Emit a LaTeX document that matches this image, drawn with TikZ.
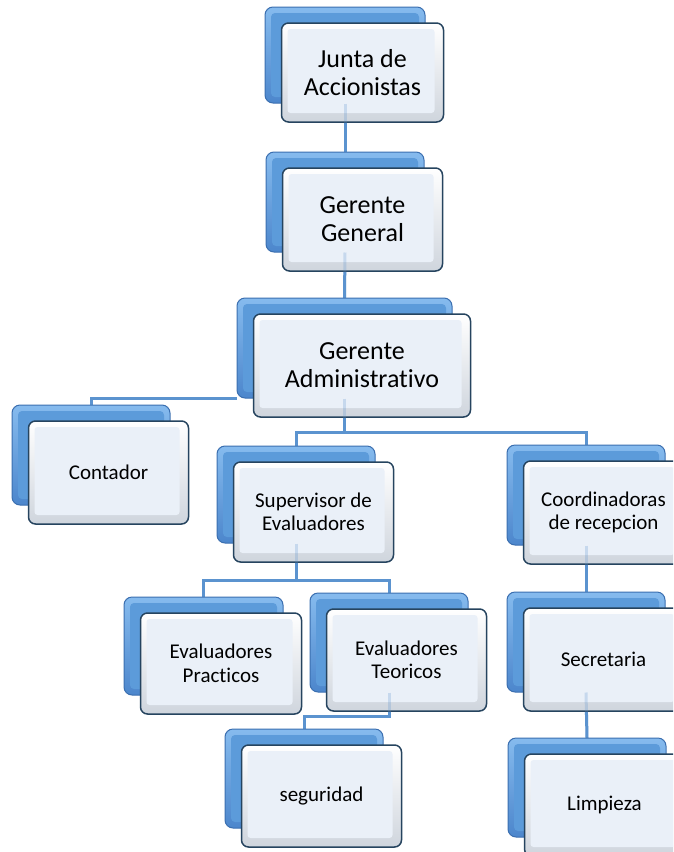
\documentclass[tikz,border=0pt]{standalone}
\usepackage{fontspec}
\setmainfont{Carlito}[Ligatures=NoCommon]
\usetikzlibrary{calc}
\definecolor{conn}{HTML}{5B93CF}
\definecolor{blueedge}{HTML}{3B6FB0}
\definecolor{bluetop}{HTML}{86BBEE}
\definecolor{bluebot}{HTML}{4C86CC}
\definecolor{bluein}{HTML}{5C9BDA}
\definecolor{frontedge}{HTML}{26445F}
\definecolor{frontbot}{HTML}{CFD5DD}
\definecolor{frontin}{HTML}{EAF0F8}
\tikzset{
  bluebox/.style={rounded corners=8pt, draw=blueedge, line width=1pt, top color=bluetop, bottom color=bluebot, inner sep=0pt,
    path picture={\fill[bluein, rounded corners=4pt] ([shift={(6pt,6pt)}]path picture bounding box.south west) rectangle ([shift={(-6pt,-6pt)}]path picture bounding box.north east);}},
  frontbox/.style={rounded corners=7pt, draw=frontedge, line width=1.5pt, top color=white, bottom color=frontbot, inner sep=0pt, align=center,
    path picture={\fill[frontin, rounded corners=3pt] ([shift={(6pt,9pt)}]path picture bounding box.south west) rectangle ([shift={(-9pt,-6pt)}]path picture bounding box.north east);}},
  bigtxt/.style={font=\fontsize{26}{28}\selectfont},
  smalltxt/.style={font=\fontsize{21}{23.5}\selectfont},
  link/.style={draw=conn, line width=3pt},
}
\newcommand{\orgbox}[7]{%
  \node[bluebox, minimum width=#4pt, minimum height=#5pt] (#1) at (#2,#3) {};
  \node[frontbox, #6, minimum width=#4pt+2pt, minimum height=#5pt+3pt] (#1f) at ($(#1.center)+(17.5,17.5)$) {#7};}
\newcommand{\orglinks}[1]{%
  \draw[link,#1] (junta.south) -- (gg.north);
  \draw[link,#1] (gg.south) -- (ga.north);
  \draw[link,#1] (ga.south west) -| (cont.north);
  \draw[link,#1] (ga.south) -- (ga.south |- ybarA) -| (sup.north);
  \draw[link,#1] (ga.south |- ybarA) -| (coord.north);
  \draw[link,#1] (sup.south) -- (sup.south |- ybarB) -| (prac.north);
  \draw[link,#1] (sup.south |- ybarB) -| (teo.north);
  \draw[link,#1] (teo.south) -- (teo.south |- ybarC) -| (seg.north);
  \draw[link,#1] (coord.south) -- (sec.north);
  \draw[link,#1] (sec.south) -- (limp.north);}
\begin{document}
\begin{tikzpicture}[x=1pt,y=-1pt]
\useasboundingbox (0,0) rectangle (673,852);
\clip (0,0) rectangle (673,852);
\fill[white] (0,0) rectangle (673,852);
\coordinate (ybarA) at (0,432);
\coordinate (ybarB) at (0,580);
\coordinate (ybarC) at (0,716);
\begin{scope}[opacity=0]
\node[minimum width=160pt, minimum height=96pt, inner sep=0pt] (junta) at (345,55) {};
\node[minimum width=158pt, minimum height=100pt, inner sep=0pt] (gg) at (345,202) {};
\node[minimum width=215pt, minimum height=100pt, inner sep=0pt] (ga) at (344.5,348) {};
\node[minimum width=158pt, minimum height=100pt, inner sep=0pt] (cont) at (91,455) {};
\node[minimum width=158pt, minimum height=97pt, inner sep=0pt] (sup) at (296,494.5) {};
\node[minimum width=158pt, minimum height=100pt, inner sep=0pt] (coord) at (586,495) {};
\node[minimum width=159pt, minimum height=98pt, inner sep=0pt] (prac) at (203.5,646) {};
\node[minimum width=158pt, minimum height=99pt, inner sep=0pt] (teo) at (389,642.5) {};
\node[minimum width=158pt, minimum height=99pt, inner sep=0pt] (seg) at (304,778.5) {};
\node[minimum width=158pt, minimum height=100pt, inner sep=0pt] (sec) at (586,642) {};
\node[minimum width=158pt, minimum height=99pt, inner sep=0pt] (limp) at (587,787.5) {};
\end{scope}
\orglinks{}
\orgbox{junta}{345}{55}{160}{96}{bigtxt}{Junta de\\Accionistas}
\orgbox{gg}{345}{202}{158}{100}{bigtxt}{Gerente\\General}
\orgbox{ga}{344.5}{348}{215}{100}{bigtxt}{Gerente\\Administrativo}
\orgbox{cont}{91}{455}{158}{100}{smalltxt}{Contador}
\orgbox{sup}{296}{494.5}{158}{97}{smalltxt}{Supervisor de\\Evaluadores}
\orgbox{coord}{586}{495}{158}{100}{smalltxt}{Coordinadoras\\de recepcion}
\orgbox{prac}{203.5}{646}{159}{98}{smalltxt}{Evaluadores\\Practicos}
\orgbox{teo}{389}{642.5}{158}{99}{smalltxt}{Evaluadores\\Teoricos}
\orgbox{seg}{304}{778.5}{158}{99}{smalltxt}{seguridad}
\orgbox{sec}{586}{642}{158}{100}{smalltxt}{Secretaria}
\orgbox{limp}{587}{787.5}{158}{99}{smalltxt}{Limpieza}
\orglinks{opacity=0.25}
\end{tikzpicture}
\end{document}
